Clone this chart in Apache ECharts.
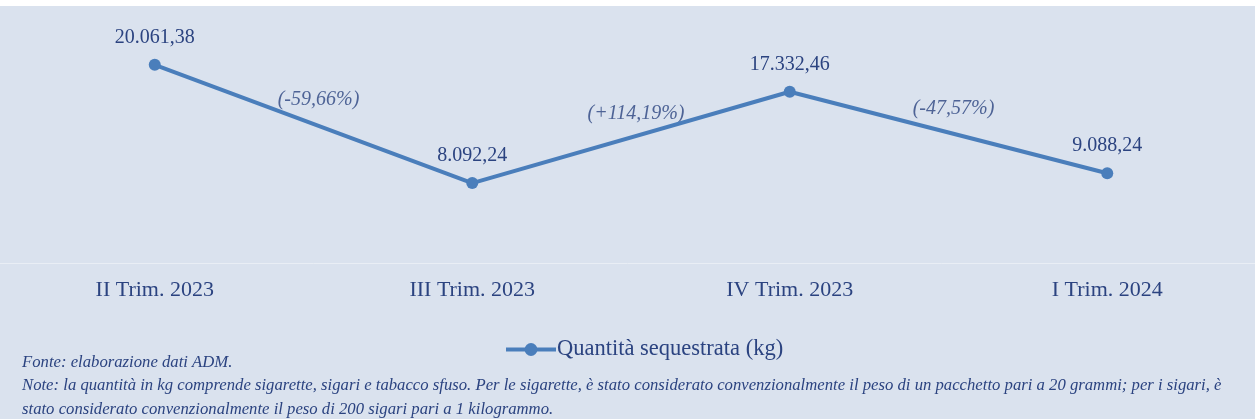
<!DOCTYPE html>
<html>
<head>
<meta charset="utf-8">
<script src="https://cdn.jsdelivr.net/npm/echarts@6/dist/echarts.min.js"></script>
<style>
  html, body { margin: 0; padding: 0; background: #dae2ee; }
  #container { width: 1255px; height: 419px; }
</style>
</head>
<body>
<div id="container"></div>
<script>
// dati
let trimestri = ['II Trim. 2023', 'III Trim. 2023', 'IV Trim. 2023', 'I Trim. 2024'];
let quantita = [20061.38, 8092.24, 17332.46, 9088.24];            // kg sequestrati
let variazioni = ['(-59,66%)', '(+114,19%)', '(-47,57%)'];        // variazione tra trimestri
let serieNome = 'Quantità sequestrata (kg)';
let noteTesti = [
	'Fonte: elaborazione dati ADM.',
	'Note: la quantità in kg comprende sigarette, sigari e tabacco sfuso. Per le sigarette, è stato considerato convenzionalmente il peso di un pacchetto pari a 20 grammi; per i sigari, è',
	'stato considerato convenzionalmente il peso di 200 sigari pari a 1 kilogrammo.'
];

let fontSerif = '"Liberation Serif", "DejaVu Serif", serif';
let coloreTesto = '#2b4380';
let coloreLinea = '#4a7ebb';

// formato italiano 20.061,38
function formatIt(v) {
	let parts = v.toFixed(2).split('.');
	let intPart = parts[0].replace(/\B(?=(\d{3})+(?!\d))/g, '.');
	return intPart + ',' + parts[1];
}

// punti a metà tra due trimestri, per le etichette delle variazioni
let puntiVariazione = variazioni.map((txt, i) => {
	return { value: [i + 0.5, (quantita[i] + quantita[i + 1]) / 2], txt: txt };
});

let myChart = echarts.init(document.getElementById('container'));

let option = {
	backgroundColor: '#dae2ee',
	animation: false,
	grid: {
		left: -4,
		right: -11,
		top: 16,
		bottom: 156,
		outerBoundsMode: 'none'
	},
	xAxis: [
		{
			type: 'category',
			data: trimestri,
			boundaryGap: true,
			axisTick: { show: false },
			axisLine: { show: true, lineStyle: { color: '#e9eef5', width: 1 } },
			axisLabel: {
				color: coloreTesto,
				fontFamily: fontSerif,
				fontSize: 22,
				margin: 16
			},
			splitLine: { show: false }
		},
		{
			type: 'value',
			min: -0.5,
			max: 3.5,
			show: false
		}
	],
	yAxis: {
		type: 'value',
		min: 0,
		max: 25000,
		show: false,
		splitLine: { show: false }
	},
	legend: {
		data: [serieNome],
		left: 499,
		top: 333,
		itemWidth: 50,
		itemHeight: 16,
		itemGap: 4,
		lineStyle: { width: 4 },
		textStyle: {
			color: coloreTesto,
			fontFamily: fontSerif,
			fontSize: 22.5,
			padding: [0, 0, 0, -4]
		}
	},
	series: [
		{
			name: serieNome,
			type: 'line',
			data: quantita,
			color: coloreLinea,
			symbol: 'circle',
			symbolSize: 12,
			lineStyle: { width: 4, color: coloreLinea },
			itemStyle: { color: coloreLinea },
			label: {
				show: true,
				position: 'top',
				distance: 11,
				color: coloreTesto,
				fontFamily: fontSerif,
				fontSize: 20,
				formatter: p => formatIt(p.value)
			}
		},
		{
			name: 'variazioni',
			type: 'scatter',
			xAxisIndex: 1,
			symbolSize: 0,
			silent: true,
			data: puntiVariazione,
			label: {
				show: true,
				position: 'inside',
				offset: [5, -24],
				color: coloreTesto,
				fontFamily: fontSerif,
				fontStyle: 'italic',
				fontSize: 20,
				formatter: p => p.data.txt
			}
		}
	],
	graphic: [
		{
			type: 'rect',
			left: 0,
			top: 0,
			shape: { width: 1255, height: 6 },
			style: { fill: '#ffffff' },
			silent: true
		}
	].concat(noteTesti.map((t, i) => ({
		type: 'text',
		left: 22,
		top: 354 + i * 23.5,
		silent: true,
		style: {
			text: t,
			fill: coloreTesto,
			font: 'italic 16.7px ' + fontSerif
		}
	})))
};

myChart.setOption(option, true);
</script>
</body>
</html>
